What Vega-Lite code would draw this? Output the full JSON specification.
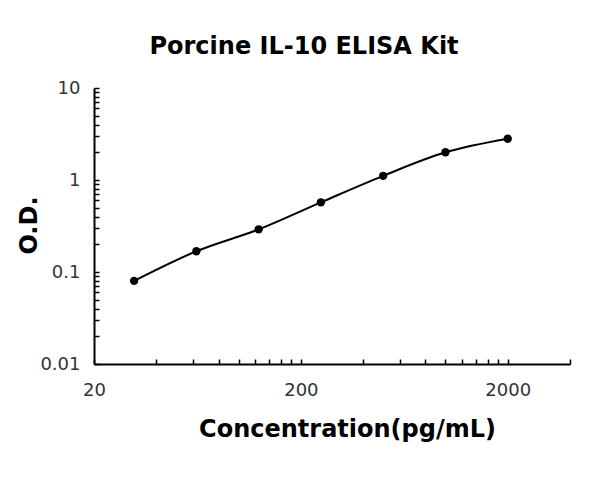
{
  "$schema": "https://vega.github.io/schema/vega-lite/v6.json",
  "autosize": "none",
  "width": 476,
  "height": 276,
  "padding": {"left": 94, "top": 88, "right": 30, "bottom": 122},
  "background": "white",
  "title": {
    "text": "Porcine IL-10 ELISA Kit",
    "font": "DejaVu Sans",
    "fontWeight": "bold",
    "fontSize": 24,
    "color": "black",
    "frame": "group",
    "anchor": "middle",
    "baseline": "alphabetic",
    "dx": -28,
    "dy": 25,
    "offset": 26
  },
  "data": {
    "values": [
      {"conc": 31.25, "od": 0.080},
      {"conc": 62.5, "od": 0.168},
      {"conc": 125, "od": 0.291},
      {"conc": 250, "od": 0.572},
      {"conc": 500, "od": 1.11},
      {"conc": 1000, "od": 2.0},
      {"conc": 2000, "od": 2.81}
    ]
  },
  "encoding": {
    "x": {
      "field": "conc",
      "type": "quantitative",
      "scale": {"type": "log", "domain": [20, 4000], "nice": false},
      "axis": {
        "title": "Concentration(pg/mL)",
        "values": [20, 40, 60, 80, 100, 120, 140, 160, 180, 200, 400, 600, 800, 1000, 1200, 1400, 1600, 1800, 2000, 4000],
        "labelExpr": "indexof([20, 200, 2000], datum.value) >= 0 ? format(datum.value, 'd') : ''",
        "labelFlush": false,
        "titleX": 253,
        "titleY": 72,
        "titleBaseline": "alphabetic",
        "titleAnchor": null,
        "titleAlign": "center",
        "labelPadding": 22
      }
    },
    "y": {
      "field": "od",
      "type": "quantitative",
      "scale": {"type": "log", "domain": [0.01, 10], "nice": false},
      "axis": {
        "title": "O.D.",
        "values": [0.01, 0.02, 0.03, 0.04, 0.05, 0.06, 0.07, 0.08, 0.09, 0.1, 0.2, 0.3, 0.4, 0.5, 0.6, 0.7, 0.8, 0.9, 1, 2, 3, 4, 5, 6, 7, 8, 9, 10],
        "labelExpr": "indexof([0.01, 0.1, 1, 10], datum.value) >= 0 ? format(datum.value, '~g') : ''",
        "labelFlush": false,
        "titleX": -65,
        "titleY": 137,
        "titleAngle": -90,
        "titleAlign": "center",
        "titleBaseline": "middle",
        "titleAnchor": null,
        "labelPadding": 19
      }
    }
  },
  "layer": [
    {
      "mark": {"type": "line", "interpolate": "monotone", "color": "black", "strokeWidth": 2}
    },
    {
      "mark": {"type": "point", "filled": true, "color": "black", "opacity": 1, "size": 70}
    }
  ],
  "config": {
    "view": {"stroke": null},
    "axis": {
      "grid": false,
      "domainColor": "black",
      "domainWidth": 2,
      "tickColor": "black",
      "tickWidth": 1.5,
      "tickSize": -5,
      "labelFont": "DejaVu Sans",
      "labelFontSize": 18,
      "labelColor": "#333333",
      "labelOverlap": false,
      "titleFont": "DejaVu Sans",
      "titleFontWeight": "bold",
      "titleFontSize": 24,
      "titleColor": "black"
    }
  }
}
